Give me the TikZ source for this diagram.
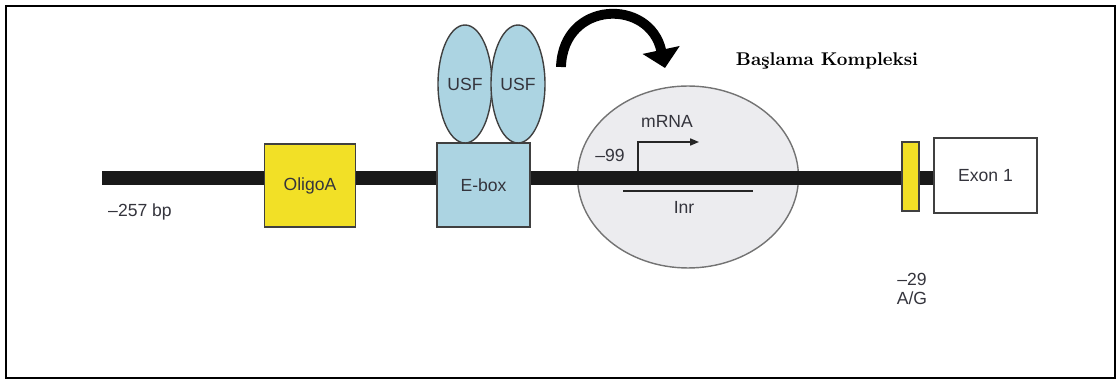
\documentclass[tikz,border=0pt]{standalone}
\usepackage{fontspec}
\setsansfont{Liberation Sans}
\usetikzlibrary{arrows.meta,positioning,shapes.geometric}

\definecolor{oligoyellow}{RGB}{242,224,38}
\definecolor{eboxblue}{RGB}{172,212,226}
\definecolor{cplxgray}{RGB}{236,236,239}
\definecolor{labelgray}{RGB}{52,52,60}

\begin{document}
\begin{tikzpicture}[x=0.02cm,y=-0.02cm,
    lbl/.style={font=\sffamily\fontsize{10}{10.5}\selectfont,text=labelgray,inner sep=1pt},
    elem/.style={draw=black!75,line width=0.8pt,lbl},
    usf/.style={elem,ellipse,fill=eboxblue,minimum width=1.08cm,minimum height=2.36cm,inner sep=0pt},
    dna/.style={line width=7.5pt,black!90}]
  \useasboundingbox (0,0) rectangle (1118,381);
  \draw[line width=1.6pt] (6,6) rectangle (1115,378);

  % initiation complex sits under the DNA strand
  \node[ellipse,draw=black!55,line width=0.8pt,fill=cplxgray,
        minimum width=4.42cm,minimum height=3.64cm] (cplx) at (688,177) {};
  \node[elem,fill=white,minimum width=2.06cm,minimum height=1.5cm] (exon) at (985.5,175.5) {Exon 1};

  \coordinate (dnastart) at (102,178);
  \draw[dna] (dnastart) -- (dnastart -| exon.west);

  \node[elem,fill=oligoyellow,minimum width=1.82cm,minimum height=1.66cm] (oligo) at (310,185.5) {OligoA};
  \node[elem,fill=eboxblue,minimum width=1.86cm,minimum height=1.68cm] (ebox) at (483.5,185) {E-box};
  \node[elem,fill=oligoyellow,minimum width=0.34cm,minimum height=1.38cm,inner sep=0pt] (ag) at (910.5,176.5) {};

  \node[usf] (usf1) at (465,84) {USF};
  \node[usf] (usf2) at (518,84) {USF};

  % labels along the strand
  \node[lbl] (bp) at (140,212) {–257 bp};
  \node[lbl] (m99) at (610,155) {–99};
  \node[lbl] (mrna) at (667,121) {mRNA};
  \node[lbl] (inr) at (684,207) {Inr};
  \node[lbl,align=center] (m29) at (912,289) {–29\\A/G};

  % start site and Inr region
  \coordinate (tss) at (638,171);
  \coordinate (tssend) at (699,142);
  \draw[line width=0.8pt,black!85,-{Triangle[length=5pt,width=4pt]}] (tss) |- (tssend);
  \coordinate (inrl) at (623,191);
  \coordinate (inrr) at (753,191);
  \draw[line width=0.8pt,black!85] (inrl) -- (inrr);

  % recruitment arrow
  \coordinate (arcstart) at (561,67);
  \coordinate (arcend) at (665,68);
  \draw[line width=5.6pt,-{Triangle[width=21pt,length=10.5pt]}]
    (arcstart) .. controls (563,0) and (650,-2) .. (arcend);
  \node[font=\rmfamily\bfseries\fontsize{10.5}{12}\selectfont] (kompleks) at (827,61) {Başlama Kompleksi};
\end{tikzpicture}
\end{document}
